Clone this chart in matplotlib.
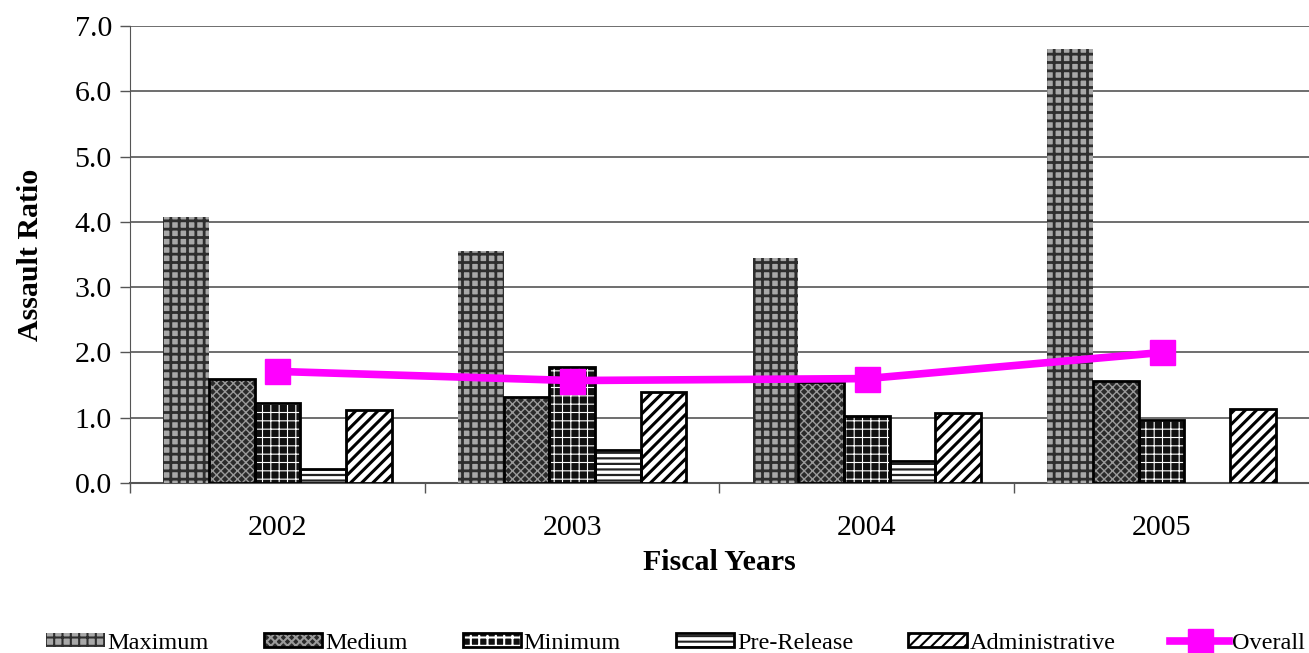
import numpy as np
import matplotlib
matplotlib.use("Agg")
import matplotlib.pyplot as plt
from matplotlib.legend_handler import HandlerTuple

plt.rcParams['font.family'] = ['Liberation Serif', 'DejaVu Serif']
plt.rcParams['hatch.linewidth'] = 1.5

years = ["2002", "2003", "2004", "2005"]
maximum = [4.08, 3.55, 3.45, 6.65]
medium = [1.59, 1.32, 1.55, 1.57]
minimum = [1.23, 1.77, 1.02, 0.96]
pre_release = [0.21, 0.50, 0.33, np.nan]
administrative = [1.12, 1.39, 1.08, 1.14]
overall = [1.71, 1.57, 1.60, 2.00]

series = [
    ("Maximum", maximum, dict(face="#a8a8a8", hatch="++", hcol="#2e2e2e", edge=False, hlw=2.0)),
    ("Medium", medium, dict(face="#2a2a2a", hatch="xxxx", hcol="#9a9a9a", edge=True, hlw=1.0)),
    ("Minimum", minimum, dict(face="#111111", hatch="++", hcol="#ffffff", edge=True, hlw=0.8)),
    ("Pre-Release", pre_release, dict(face="#ffffff", hatch="---", hcol="#222222", edge=True, hlw=1.6)),
    ("Administrative", administrative, dict(face="#ffffff", hatch="///", hcol="#000000", edge=True, hlw=2.2)),
]

fig = plt.figure(figsize=(13.09, 6.53), dpi=100)
ax = fig.add_axes([0.0993, 0.2603, 0.9007, 0.6997])

x = np.arange(len(years))
w = 0.155
handles = []
labels = []
for i, (name, vals, st) in enumerate(series):
    pos = x + (i - 2) * w
    with plt.rc_context({'hatch.linewidth': st["hlw"]}):
        b = ax.bar(pos, vals, w, color=st["face"], hatch=st["hatch"],
                   edgecolor=st["hcol"], linewidth=0, zorder=3)
    if st["edge"]:
        e = ax.bar(pos, vals, w, fill=False, edgecolor="black", linewidth=2, zorder=4)
        handles.append((b, e))
    else:
        handles.append(b)
    labels.append(name)

ln, = ax.plot(x, overall, color="#ff00ff", lw=5.5, marker="s", markersize=18, zorder=6)
handles.append(ln)
labels.append("Overall")

ax.set_xlim(-0.5, 3.5)
ax.set_ylim(0, 7)
ax.set_yticks(np.arange(0, 7.01, 1.0))
ax.set_yticklabels([f"{v:.1f}" for v in np.arange(0, 7.01, 1.0)], fontsize=21.5)
ax.yaxis.grid(True, color="#555555", lw=1.2)
ax.set_axisbelow(True)

ax.set_xticks(x)
ax.set_xticklabels(years, fontsize=21.5)
ax.set_xticks([-0.5, 0.5, 1.5, 2.5], minor=True)
ax.tick_params(axis="x", which="major", length=0, pad=23)
ax.tick_params(axis="x", which="minor", length=7, width=1, color="#555555")
ax.tick_params(axis="y", length=7, width=1, color="#555555", pad=6)

for s in ["top", "right"]:
    ax.spines[s].set_visible(False)
ax.spines["left"].set_color("#555555")
ax.spines["bottom"].set_color("#555555")
ax.spines["bottom"].set_linewidth(1.5)

ax.set_xlabel("Fiscal Years", fontsize=21.5, fontweight="bold", labelpad=6)
ax.set_ylabel("Assault Ratio", fontsize=21.5, fontweight="bold", labelpad=22)

fig.legend(handles=handles, labels=labels, loc="lower left",
           bbox_to_anchor=(0.028, -0.016, 0.976, 0.04),
           mode="expand", ncol=6, frameon=False, fontsize=17.5, handlelength=2.4,
           handleheight=0.55, handletextpad=0.12, borderaxespad=0,
           handler_map={tuple: HandlerTuple(ndivide=1, pad=0)})

fig.savefig("out.png", dpi=100)
